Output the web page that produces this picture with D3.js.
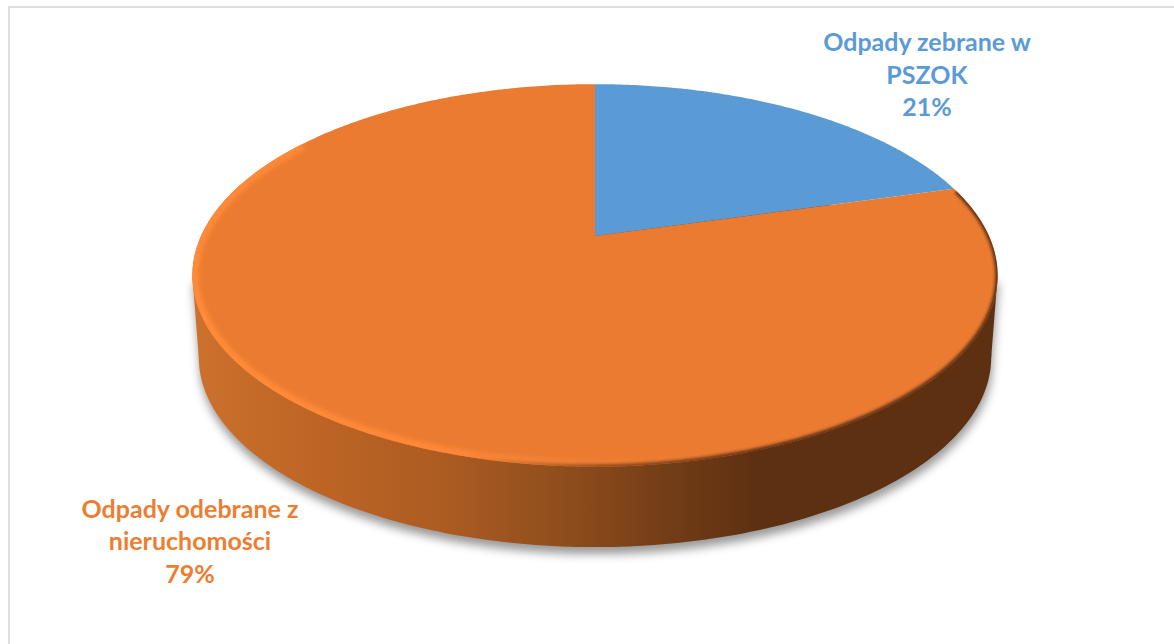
<!DOCTYPE html>
<html>
<head>
<meta charset="utf-8">
<script src="https://cdn.jsdelivr.net/npm/d3@7"></script>
<style>
  html, body { margin: 0; padding: 0; background: #fff; }
  svg { display: block; }
  .label { font-family: Lato, "Open Sans", sans-serif; font-weight: 700; font-size: 25px; text-anchor: middle; }
</style>
</head>
<body>
<svg id="chart" width="1174" height="644"></svg>
<script>
const sliceNames = [['Odpady zebrane w', 'PSZOK'], ['Odpady odebrane z', 'nieruchomości']];
// the labels round these to 21% and 79%
const sliceValues = [20.6, 79.4];
const sliceColors = ['#5b9bd5', '#eb7b30'];
const labelColors = ['#5b9bd5', '#ed7d31'];

const svg = d3.select('#chart');
const defs = svg.append('defs');

// frame of the pasted chart, only top and left edges show
svg.append('path').attr('d', 'M9,644V7H1174').attr('fill', 'none').attr('stroke', '#dedede').attr('stroke-width', 2);

// pie is seen in perspective, apex sits above the middle of the ellipse
const cx = 595, persp = -0.206, kx = 394, ky = 134.5, apexY = 236;
function project(a, r) {
  const u = r * Math.sin(a), v = -r * Math.cos(a), d = 1 + persp * v;
  return [cx + kx * u / d, (ky * v + apexY) / d];
}
// bottom rim: same outline, slightly narrower and moved down
const lower = ([x, y]) => [cx + (x - cx) * 0.984, 275 + (y - 275) * 0.992 + 82];

const line = d3.line();
const sweep = d3.range(0, 361, 1).map(d => d * Math.PI / 180);
const topRim = sweep.map(a => project(a, 1));
const lowRim = topRim.map(lower);

const grad = (id, stops) => {
  const g = defs.append('linearGradient').attr('id', id).attr('gradientUnits', 'userSpaceOnUse')
    .attr('x1', 191).attr('x2', 998).attr('y1', 0).attr('y2', 0);
  stops.forEach(s => g.append('stop').attr('offset', (s[0] - 191) / 807).attr('stop-color', s[1]).attr('stop-opacity', s[2] === undefined ? 1 : s[2]));
};
grad('wall', [[191, '#cc722d'], [300, '#c06626'], [450, '#ab5b22'], [560, '#904e1c'], [680, '#703b16'], [755, '#5e3012'], [998, '#5e3012']]);
grad('glow', [[191, '#ff8a3a'], [420, '#fd8838'], [540, '#f98739', 0.9], [640, '#f38338', 0.35], [720, '#ee7e32', 0]]);
grad('shade', [[191, '#5e3012', 0], [470, '#8a4a1c', 0], [600, '#7a4018', 0.8], [760, '#5e3012', 1], [998, '#5e3012', 1]]);

const blur = (id, s) => defs.append('filter').attr('id', id).attr('x', '-10%').attr('y', '-10%').attr('width', '120%').attr('height', '120%')
  .append('feGaussianBlur').attr('stdDeviation', s);
blur('edge', 2.2);
blur('tight', 1.4);

defs.append('clipPath').attr('id', 'topClip').append('path').attr('d', line(topRim) + 'Z');

// side wall, the ground shadow comes from its drop shadow
const [left, right] = [d3.least(topRim, d => d[0]), d3.greatest(topRim, d => d[0])];
const wall = svg.append('g').attr('fill', 'url(#wall)').style('filter', 'drop-shadow(1px 7px 5px rgba(0,0,0,0.4))');
wall.append('path').attr('d', line(lowRim) + 'Z');
wall.append('path').attr('d', line([left, lower(left), lower(right), right]) + 'Z');

// top face, one wedge per value
const pie = d3.pie().sort(null);
const arcs = pie(sliceValues);
const wedge = d => {
  const n = Math.ceil((d.endAngle - d.startAngle) * 90);
  const pts = d3.range(n + 1).map(i => project(d.startAngle + (d.endAngle - d.startAngle) * i / n, 1));
  return line([project(0, 0), ...pts]) + 'Z';
};
svg.append('g').selectAll('path').data(arcs).join('path')
  .attr('d', wedge)
  .attr('fill', (d, i) => sliceColors[i]);

// bevel along the rim, lit left, dark right
const bevel = svg.append('g').attr('clip-path', 'url(#topClip)').attr('fill', 'none');
bevel.append('path').attr('d', line(topRim.filter((p, i) => i > 100 && i < 305)))
  .attr('stroke', 'url(#glow)').attr('stroke-width', 13).attr('filter', 'url(#edge)');
bevel.append('path').attr('d', line(topRim.filter((p, i) => i > 74 && i < 290)))
  .attr('stroke', 'url(#shade)').attr('stroke-width', 5).attr('filter', 'url(#tight)');

// labels
const labelPos = [{x: 927, y: [51, 84, 116]}, {x: 190, y: [518, 550, 583]}];
arcs.forEach((d, i) => {
  const lines = [...sliceNames[i], d3.format('.0f')(d.value) + '%'];
  svg.append('g').selectAll('text').data(lines).join('text')
    .attr('class', 'label')
    .attr('x', labelPos[i].x)
    .attr('y', (t, j) => labelPos[i].y[j])
    .attr('fill', labelColors[i])
    .text(t => t);
});
</script>
</body>
</html>
